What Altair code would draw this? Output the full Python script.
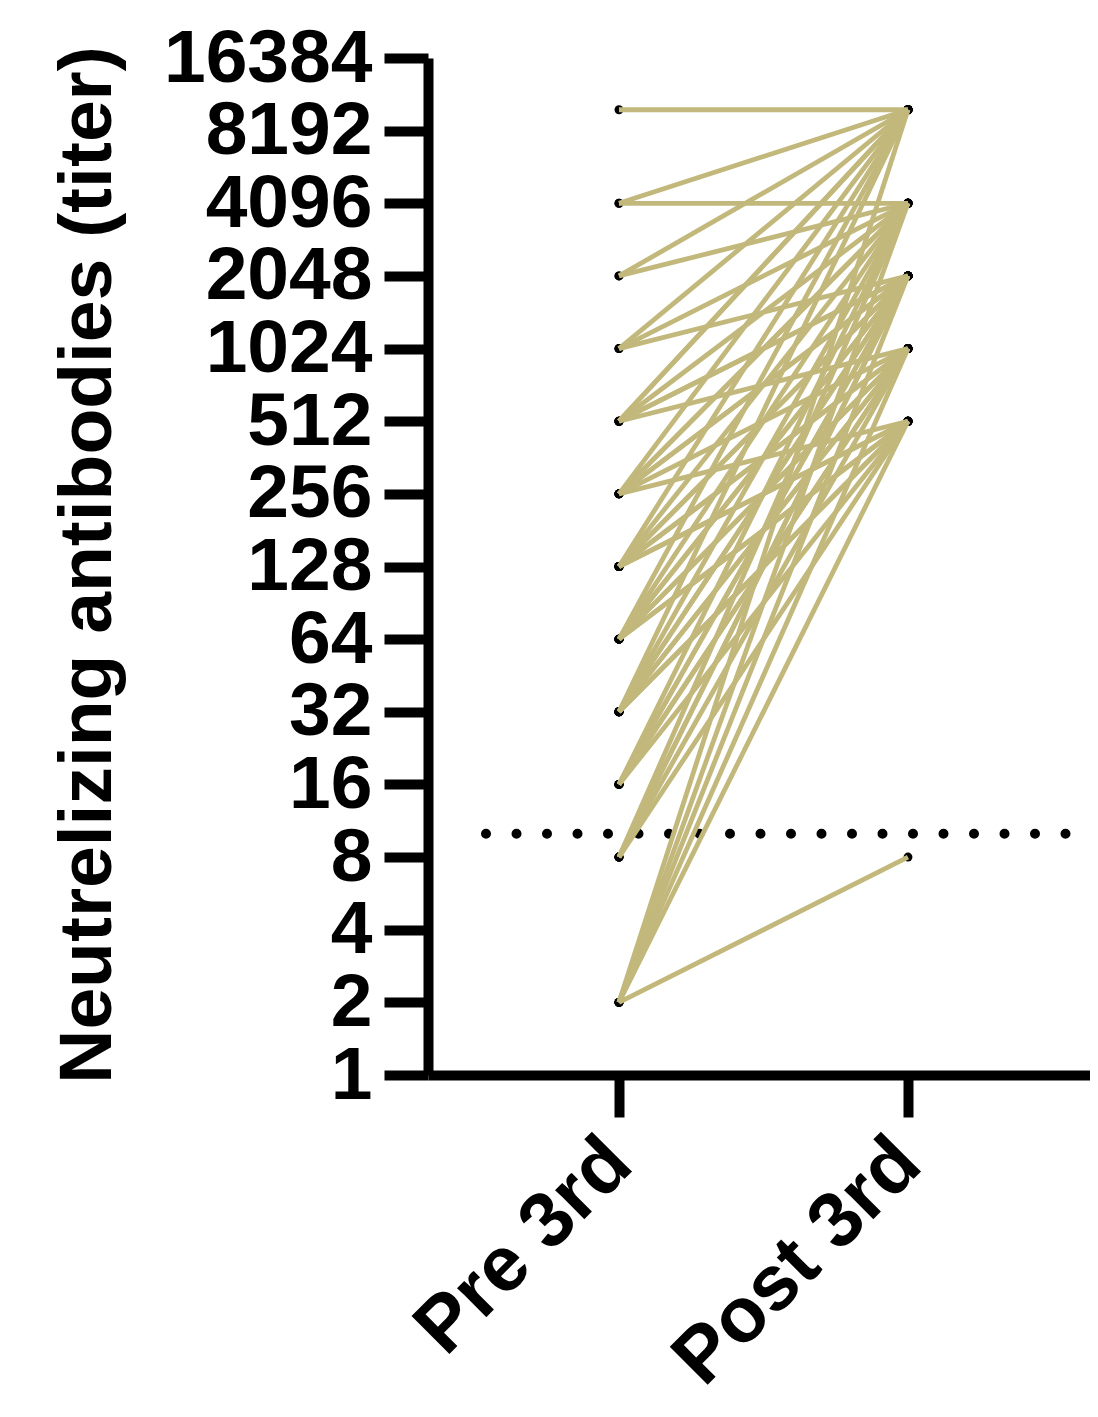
import altair as alt
import pandas as pd

# Categories
groups = ["Pre 3rd", "Post 3rd"]

# Paired titers (one entry per subject): pre value and post value
# (top values sit just above the 8192 tick, ~10000)
pre_titers = [
    10000,
    4096, 4096,
    2048, 2048,
    1024, 1024, 1024,
    512, 512, 512, 512, 512, 512,
    256, 256, 256, 256, 256, 256, 256,
    128, 128, 128, 128, 128, 128, 128, 128,
    64, 64, 64, 64, 64, 64, 64, 64,
    32, 32, 32, 32, 32, 32, 32, 32,
    16, 16, 16, 16, 16, 16,
    8, 8, 8, 8, 8,
    2, 2, 2, 2, 2, 2,
]
post_titers = [
    10000,
    10000, 4096,
    10000, 4096,
    10000, 4096, 2048,
    10000, 4096, 2048, 1024, 10000, 2048,
    10000, 4096, 2048, 1024, 512, 4096, 2048,
    10000, 4096, 2048, 1024, 512, 2048, 1024, 512,
    10000, 4096, 2048, 1024, 512, 2048, 1024, 512,
    10000, 4096, 2048, 1024, 512, 1024, 2048, 512,
    4096, 2048, 1024, 512, 2048, 1024,
    4096, 2048, 1024, 512, 2048,
    10000, 4096, 2048, 1024, 512, 8,
]

# Y axis tick values (log2 scale)
y_ticks = [1, 2, 4, 8, 16, 32, 64, 128, 256, 512, 1024, 2048, 4096, 8192, 16384]
threshold = [10]

rows = []
for i, (a, b) in enumerate(zip(pre_titers, post_titers)):
    rows.append({"id": i, "group": groups[0], "titer": a})
    rows.append({"id": i, "group": groups[1], "titer": b})
df = pd.DataFrame(rows)
df_thr = pd.DataFrame({"thr": threshold})

W, H = 662, 1017
FONT = "Liberation Sans"
LINE_COLOR = "#C2B87C"
yscale = alt.Scale(type="log", base=2, domain=[1, 16384], nice=False)

x_enc = alt.X(
    "group:N",
    sort=groups,
    scale=alt.Scale(type="point", padding=0.6453, align=0.512),
    axis=alt.Axis(
        title=None,
        labelAngle=315,
        labelAlign="right",
        labelBaseline="middle",
        labelFontSize=78,
        labelFont=FONT,
        labelFontWeight="bold",
        labelColor="black",
        labelPadding=34,
        labelLimit=2000,
        labelOverlap=False,
        tickSize=42,
        tickWidth=10,
        tickColor="black",
        domainWidth=10,
        domainColor="black",
        grid=False,
    ),
)
y_enc = alt.Y(
    "titer:Q",
    scale=yscale,
    axis=alt.Axis(
        title="Neutrelizing antibodies (titer)",
        values=y_ticks,
        format="d",
        labelFontSize=75,
        labelFont=FONT,
        labelFontWeight="bold",
        labelColor="black",
        labelPadding=12,
        labelLimit=2000,
        labelOverlap=False,
        labelBound=False,
        tickSize=44,
        tickWidth=10,
        tickColor="black",
        domainWidth=10,
        domainColor="black",
        grid=False,
        titleFontSize=75,
        titleFont=FONT,
        titleFontWeight="bold",
        titleColor="black",
        titleAngle=270,
        titleBaseline="alphabetic",
        titleAlign="center",
        titleX=-318,
        titleY=H / 2 - 2,
        titleLimit=3000,
    ),
)

base = alt.Chart(df)

rule = alt.Chart(df_thr).mark_rule(
    color="black", strokeWidth=10, strokeDash=[0, 30.5], strokeCap="round"
).encode(
    y=alt.Y("thr:Q", scale=yscale),
    x=alt.value(58),
    x2=alt.value(W + 12),
)

points = base.mark_circle(color="black", opacity=1, size=80).encode(x=x_enc, y=y_enc)

lines = base.mark_line(color=LINE_COLOR, strokeWidth=4.8).encode(
    x=x_enc, y=y_enc, detail="id:N"
)

chart = (
    alt.layer(rule, points, lines)
    .properties(
        width=W,
        height=H,
        autosize=alt.AutoSizeParams(type="none"),
        padding={"left": 420, "top": 50, "right": 0, "bottom": 330},
        background="white",
    )
    .configure_view(stroke=None)
)

chart.save("out.html", embed_options={"renderer": "svg", "actions": False})
